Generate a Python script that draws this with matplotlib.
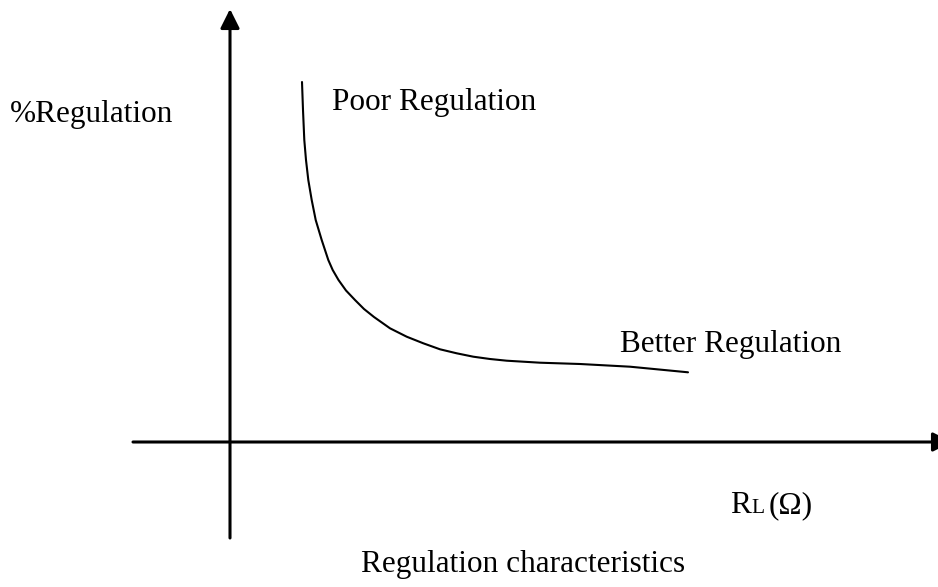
import matplotlib.pyplot as plt

# load resistance vs % regulation (schematic, axis units arbitrary)
rl = [72, 73, 74.3, 76, 78.3, 81.7, 85.7, 91.7, 98.3, 102.7, 108.5, 116, 125, 134, 144, 160,
      176.7, 193.3, 210, 226.7, 243.3, 260, 276.7, 310, 350, 400, 458]
reg = [360, 332, 302, 282, 262, 242, 222, 202, 182, 172, 162, 151.5, 142, 133, 125, 113.7,
       105.3, 98.7, 92.7, 88.7, 85.3, 83, 81.3, 79.3, 78, 75.3, 69.7]

# axis extents (arrow tips)
x_axis = [-97, 722]
y_axis = [-96, 433]

plt.rcParams["font.family"] = ["Liberation Serif", "DejaVu Serif"]

fig = plt.figure(figsize=(9.38, 5.87), dpi=100)
ax = fig.add_axes([0, 0, 1, 1])
ax.set_xlim(-230, 708)
ax.set_ylim(-145, 442)
ax.axis("off")

arrow = dict(arrowstyle="-|>,head_length=0.58,head_width=0.29", color="black",
             lw=2.2, mutation_scale=20, shrinkA=0, shrinkB=0)
ax.annotate("", xy=(x_axis[1], 0), xytext=(x_axis[0], 0), arrowprops=arrow,
            annotation_clip=False)
ax.annotate("", xy=(0, y_axis[1]), xytext=(0, y_axis[0]), arrowprops=arrow,
            annotation_clip=False)

ax.plot(rl, reg, color="black", lw=1.5, solid_capstyle="round", solid_joinstyle="round")

fs = 22.5
ax.text(-220, 320, "%Regulation", fontsize=fs, va="baseline", ha="left")
ax.text(102, 332, "Poor Regulation", fontsize=fs, va="baseline", ha="left")
ax.text(390, 90, "Better Regulation", fontsize=fs, va="baseline", ha="left")
ax.text(500, -71, "R", fontsize=fs, va="baseline", ha="left")
ax.text(521, -71, "L", fontsize=15.5, va="baseline", ha="left")
ax.text(539, -71, "(\u03a9)", fontsize=fs, va="baseline", ha="left")
ax.text(293, -130, "Regulation characteristics", fontsize=fs, va="baseline", ha="center")

plt.savefig("out.png", dpi=100)
plt.close()
